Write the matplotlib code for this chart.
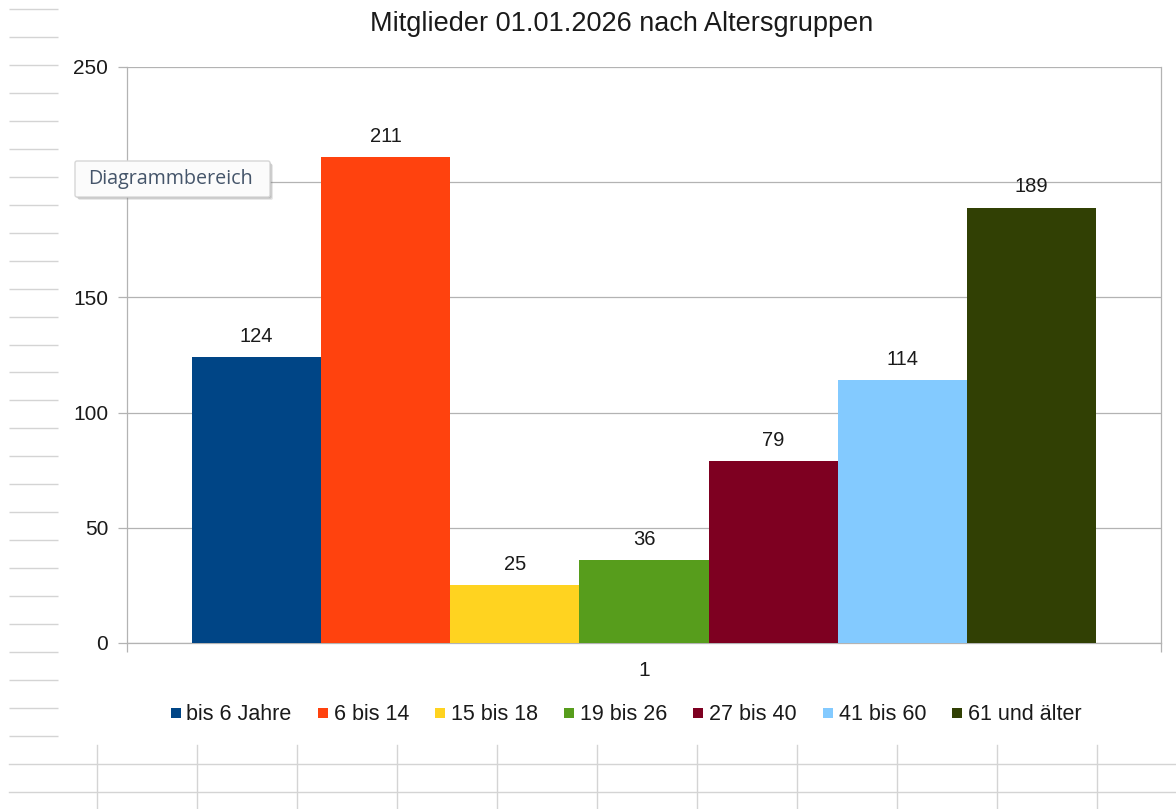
import matplotlib
matplotlib.use("Agg")
import matplotlib.pyplot as plt
from matplotlib.lines import Line2D
from matplotlib.patches import FancyBboxPatch

# ---- data ----
title = "Mitglieder 01.01.2026 nach Altersgruppen"
groups = ["bis 6 Jahre", "6 bis 14", "15 bis 18", "19 bis 26", "27 bis 40", "41 bis 60", "61 und älter"]
values = [124, 211, 25, 36, 79, 114, 189]
colors = ["#004586", "#ff420e", "#ffd320", "#579d1c", "#7e0021", "#83caff", "#314004"]
category_label = "1"
y_ticks = [0, 50, 100, 150, 200, 250]
# the "200" label is hidden under the "Diagrammbereich" tooltip in the screenshot
y_tick_labels = ["0", "50", "100", "150", "", "250"]
tooltip_text = "Diagrammbereich"

plt.rcParams['font.family'] = ['Liberation Sans', 'DejaVu Sans']

W, H = 1176, 809
fig = plt.figure(figsize=(W / 100, H / 100), dpi=100)
fig.patch.set_facecolor("white")

# ---- spreadsheet background lines (figure pixel coordinates) ----
bg = fig.add_axes([0, 0, 1, 1], zorder=-10)
bg.set_xlim(0, W)
bg.set_ylim(H, 0)
bg.axis("off")
gcol = "#d4d4d4"
n_short = 27
for k in range(n_short):
    y = 9 + k * 27.96
    bg.plot([9, 58], [y, y], color=gcol, lw=1.0, solid_capstyle="butt")
for y in [764, 792]:
    bg.plot([9, W], [y, y], color=gcol, lw=1.0)
for k in range(11):
    x = 97 + 100 * k
    bg.plot([x, x], [745, H], color=gcol, lw=1.0)

# ---- main chart ----
left, right, top, bottom = 127, 1161, 67, 643
ax = fig.add_axes([left / W, 1 - bottom / H, (right - left) / W, (bottom - top) / H])
ax.set_facecolor("none")
n = len(values)
xs = [i + 1 for i in range(n)]
ax.bar(xs, values, width=1.0, color=colors, zorder=3, linewidth=0)
ax.set_xlim(0, n + 1)
ax.set_ylim(0, 250)

ax.set_yticks(y_ticks)
ax.set_yticklabels(y_tick_labels)
ax.yaxis.grid(True, color="#b3b3b3", linewidth=0.9, zorder=0)
ax.tick_params(axis="y", length=6.5, width=0.9, color="#b3b3b3", pad=7, labelsize=15, labelcolor="#1a1a1a")

ax.set_xticks([0, n + 1])
ax.set_xticklabels(["", ""])
ax.tick_params(axis="x", length=6.5, width=0.9, color="#b3b3b3")
ax.text((n + 1) / 2, -12, category_label, ha="center", va="center", fontsize=15, color="#1a1a1a",
        transform=ax.transData)

ax.spines["top"].set_visible(False)
for s in ["left", "right", "bottom"]:
    ax.spines[s].set_color("#b3b3b3")
    ax.spines[s].set_linewidth(0.9)

for x, v in zip(xs, values):
    ax.annotate(str(v), (x, v), xytext=(0, 15), textcoords="offset points",
                ha="center", va="center", fontsize=14.5, color="#1a1a1a", zorder=5)

# title
fig.text(622 / W, 1 - 24 / H, title, ha="center", va="center", fontsize=19.5, color="#1a1a1a")

# legend
handles = [Line2D([], [], linestyle="none", marker="s", markersize=7.4, markerfacecolor=c,
                  markeredgewidth=0) for c in colors]
fig.legend(handles, groups, loc="center", bbox_to_anchor=(626 / W, 1 - 715 / H), ncol=n,
           frameon=False, fontsize=15.5, handlelength=0.5, handletextpad=0.25,
           columnspacing=1.2, borderpad=0, labelcolor="#1a1a1a")

# ---- tooltip overlay ----
ov = fig.add_axes([0, 0, 1, 1], zorder=20)
ov.set_xlim(0, W)
ov.set_ylim(H, 0)
ov.axis("off")
ov.patch.set_alpha(0)
for d, a in [(3, 0.18), (2, 0.25), (1, 0.3)]:
    ov.add_patch(FancyBboxPatch((75 + d, 161 + d), 195, 36, boxstyle="round,pad=0,rounding_size=2",
                                facecolor="#808080", edgecolor="none", alpha=a))
ov.add_patch(FancyBboxPatch((75, 161), 195, 36, boxstyle="round,pad=0,rounding_size=2",
                            facecolor="#fbfbfb", edgecolor="#d6d6d6", linewidth=1.0))
ov.text(171, 179, tooltip_text, ha="center", va="center", fontsize=14.2,
        color="#45556a", family=["Open Sans", "DejaVu Sans"])

fig.savefig("out.png", dpi=100, facecolor="white")
